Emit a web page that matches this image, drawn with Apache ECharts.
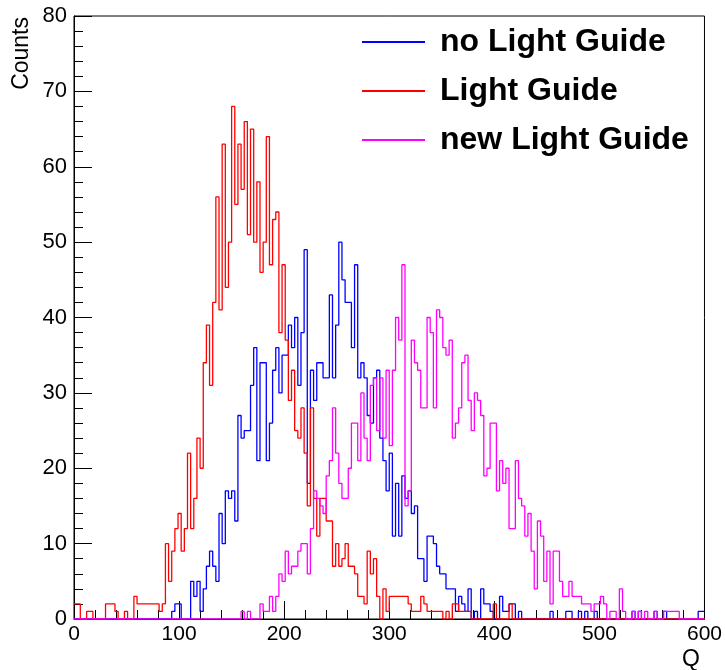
<!DOCTYPE html>
<html>
<head>
<meta charset="utf-8">
<script src="https://cdn.jsdelivr.net/npm/echarts@6/dist/echarts.min.js"></script>
<style>html,body{margin:0;padding:0;background:#fff;}#c{width:725px;height:670px;}</style>
</head>
<body>
<div id="c"></div>
<script>
// Histogram: 200 bins of width 3 over Q = 0..600
var binWidth = 3;
var xTicks = [0, 100, 200, 300, 400, 500, 600];
var yTicks = [0, 10, 20, 30, 40, 50, 60, 70, 80];
var seriesNames = ['no Light Guide', 'Light Guide', 'new Light Guide'];

var noLightGuide = [
 0,0,0,0,0,0,0,0,0,0,
 0,0,0,0,0,0,0,0,0,0,
 0,0,0,0,0,0,0,0,0,0,
 0,1,2,2,0,0,0,5,3,5,
 1,4,7,9,7,5,14,10,17,16,
 17,13,27,24,25,25,31,36,21,34,
 34,21,26,33,36,30,35,35,39,36,
 40,31,38,49,18,33,29,34,34,32,
 32,43,32,39,50,45,42,42,36,47,
 32,34,32,27,26,32,33,24,21,17,
 22,11,18,11,19,16,17,14,15,8,
 8,5,11,11,10,7,6,6,4,4,
 4,1,3,2,1,4,0,1,0,4,
 2,2,1,0,0,3,1,1,2,2,
 0,1,0,0,0,0,0,0,0,0,
 0,1,0,0,0,0,1,1,0,0,
 1,0,1,0,0,1,0,0,0,0,
 0,0,0,0,0,0,0,1,0,1,
 0,0,0,0,1,0,0,1,0,0,
 0,0,0,0,0,0,0,0,1,1
];

var lightGuide = [
 2,2,0,0,1,1,0,0,0,0,
 2,2,2,1,0,0,1,0,0,3,
 2,2,2,2,2,2,2,1,2,10,
 5,9,12,14,9,12,22,12,16,24,
 20,34,39,31,42,56,41,63,44,50,
 68,55,63,57,66,51,65,50,58,46,
 50,64,47,53,54,38,47,37,29,33,
 25,24,28,22,15,28,16,11,16,16,
 13,13,7,10,7,8,10,7,7,6,
 3,3,2,9,6,8,3,0,4,1,
 3,3,3,3,3,3,2,1,1,1,
 3,2,1,1,1,1,1,0,1,0,
 2,2,1,1,1,1,0,0,0,0,
 0,0,0,2,0,0,0,0,2,0,
 0,0,0,0,0,0,0,0,0,0,
 0,0,0,0,0,0,0,0,0,0,
 0,0,0,0,0,0,0,0,0,0,
 0,0,0,0,0,0,0,0,0,0,
 0,0,0,0,0,0,0,0,0,0,
 0,0,0,0,0,0,0,0,0,0
];

var newLightGuide = [
 0,0,0,0,0,0,0,0,0,0,
 0,0,0,0,0,0,0,0,0,0,
 0,0,0,0,0,0,0,0,0,0,
 0,0,0,0,0,0,0,0,0,0,
 0,0,0,0,0,0,0,0,0,0,
 0,0,0,1,0,1,0,0,0,2,
 1,1,3,1,3,6,5,9,6,7,
 7,9,10,10,6,12,17,16,15,14,
 19,21,28,22,18,16,16,20,26,26,
 21,30,24,21,31,32,25,32,24,33,
 23,33,40,37,47,15,17,37,34,33,
 28,28,40,38,28,41,40,36,35,37,
 24,26,28,34,35,29,25,30,29,27,
 19,20,26,26,17,21,18,20,12,12,
 21,16,15,11,14,9,4,13,11,5,
 9,2,9,9,5,3,3,5,3,3,
 3,2,2,2,1,2,2,3,2,0,
 1,1,0,4,1,0,0,1,0,1,
 0,1,0,0,1,0,0,1,1,1,
 1,1,0,0,0,0,0,0,0,0
];

function toSteps(counts) {
  var pts = [];
  for (var i = 0; i < counts.length; i++) pts.push([i * binWidth, counts[i]]);
  pts.push([counts.length * binWidth, counts[counts.length - 1]]);
  return pts;
}

var FONT = '"Liberation Sans", Arial, Helvetica, sans-serif';
var chart = echarts.init(document.getElementById('c'), null, {renderer: 'canvas'});

function histSeries(name, data, color) {
  return {
    name: name, type: 'line', step: 'end', data: toSteps(data),
    showSymbol: false, symbol: 'none', animation: false,
    lineStyle: {color: color, width: 1.3}, itemStyle: {color: color}
  };
}

chart.setOption({
  backgroundColor: '#ffffff',
  animation: false,
  grid: {left: 74, right: 20, top: 16, bottom: 51, show: true, borderColor: '#000', borderWidth: 1, backgroundColor: 'transparent'},
  legend: {
    orient: 'vertical', left: 362, top: 24, padding: 0,
    icon: 'rect', itemWidth: 63, itemHeight: 2, itemGap: 13,
    selectedMode: false,
    textStyle: {fontFamily: FONT, fontWeight: 'bold', fontSize: 32, color: '#000', lineHeight: 36, padding: [0, 0, 0, 10]},
    data: seriesNames
  },
  xAxis: {
    type: 'value', min: xTicks[0], max: xTicks[xTicks.length - 1], interval: 100,
    axisLine: {lineStyle: {color: '#000', width: 1}},
    axisTick: {inside: true, length: 18, lineStyle: {color: '#000'}},
    minorTick: {show: true, splitNumber: 5, length: 9, lineStyle: {color: '#000'}},
    splitLine: {show: false},
    axisLabel: {fontFamily: FONT, fontSize: 21, color: '#000', margin: 5}
  },
  yAxis: {
    type: 'value', min: yTicks[0], max: yTicks[yTicks.length - 1], interval: 10,
    axisLine: {show: true, lineStyle: {color: '#000', width: 1}},
    axisTick: {show: true, inside: true, length: 18, lineStyle: {color: '#000'}},
    minorTick: {show: true, splitNumber: 5, length: 9, lineStyle: {color: '#000'}},
    splitLine: {show: false},
    axisLabel: {fontFamily: FONT, fontSize: 22, color: '#000', margin: 7}
  },
  graphic: [
    {type: 'text', x: 22, y: 17, rotation: Math.PI / 2,
     style: {text: 'Counts', fontFamily: FONT, fontSize: 23, fill: '#000', align: 'right', verticalAlign: 'middle'}},
    {type: 'text', x: 700, y: 660,
     style: {text: 'Q', fontFamily: FONT, fontSize: 23, fill: '#000', align: 'right', verticalAlign: 'middle'}}
  ],
  series: [
    histSeries(seriesNames[0], noLightGuide, '#0000ff'),
    histSeries(seriesNames[1], lightGuide, '#ff0000'),
    histSeries(seriesNames[2], newLightGuide, '#ff00ff')
  ]
});
</script>
</body>
</html>
